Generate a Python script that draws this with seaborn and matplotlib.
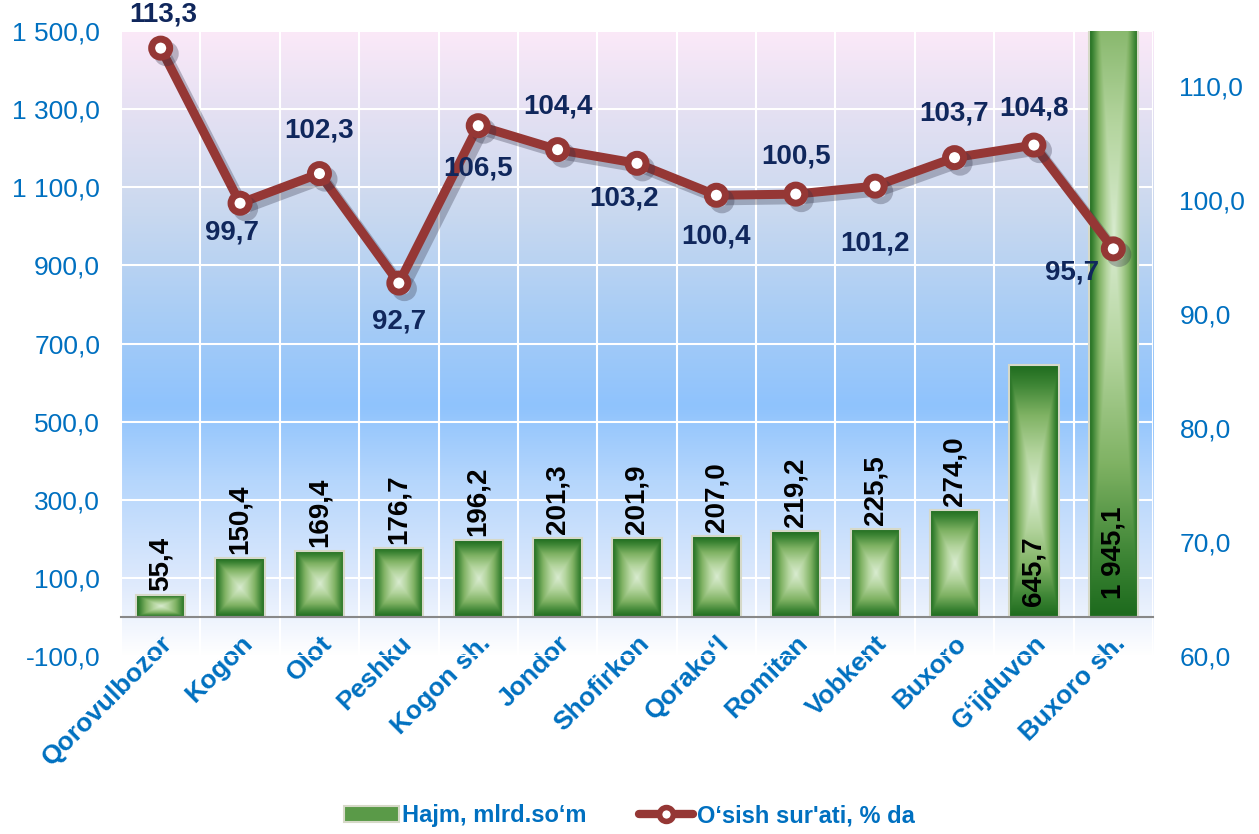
import numpy as np
import pandas as pd
import matplotlib
matplotlib.use('Agg')
import matplotlib.pyplot as plt
import matplotlib.patheffects as pe
from matplotlib.colors import LinearSegmentedColormap
from matplotlib.patches import Patch
from matplotlib.lines import Line2D
from matplotlib.ticker import FuncFormatter, FixedLocator
import seaborn as sns

# data
districts = ['Qorovulbozor', 'Kogon', 'Olot', 'Peshku', 'Kogon sh.', 'Jondor', 'Shofirkon',
             'Qorako\u2018l', 'Romitan', 'Vobkent', 'Buxoro', 'G\u2018ijduvon', 'Buxoro sh.']
volume = [55.4, 150.4, 169.4, 176.7, 196.2, 201.3, 201.9, 207.0, 219.2, 225.5, 274.0, 645.7, 1945.1]
growth = [113.3, 99.7, 102.3, 92.7, 106.5, 104.4, 103.2, 100.4, 100.5, 101.2, 103.7, 104.8, 95.7]
left_ticks = [-100, 100, 300, 500, 700, 900, 1100, 1300, 1500]
right_ticks = [60, 70, 80, 90, 100, 110]
bar_name = 'Hajm, mlrd.so\u2018m'
line_name = 'O\u2018sish sur\'ati, % da'

# label offsets for the growth line (points): dx, dy
growth_label_offsets = [(2, 24), (-6, -21), (0, 31), (0, -28), (0, -31), (0, 31), (-9, -25),
                        (0, -30), (0, 27), (0, -41), (0, 32), (0, 26), (-30, -17)]

blue = '#0070c0'
navy = '#10275c'
red = '#953735'

sns.set_style('white')
plt.rcParams['font.family'] = ['Liberation Sans', 'DejaVu Sans']


def fmt_num(v, pos=None):
    return f'{v:,.1f}'.replace(',', ' ').replace('.', ',')


df = pd.DataFrame({'district': districts, 'volume': volume, 'growth': growth})

fig = plt.figure(figsize=(12.59, 8.34), dpi=100)
ax = fig.add_axes([0.0961, 0.2134, 0.8197, 0.7494])

# background gradient pink -> blue -> white
bg = LinearSegmentedColormap.from_list('bg', [
    (0.0, '#ffffff'), (0.04, '#f3f7fe'), (0.12, '#dde9fc'), (0.28, '#b5d6fc'),
    (0.40, '#8fc3fd'), (0.55, '#a9cdf5'), (0.72, '#cbd9ef'), (0.88, '#e6e1f3'), (1.0, '#fbe9f8')])
grad = np.linspace(0, 1, 256).reshape(-1, 1)
ax.imshow(grad, cmap=bg, origin='lower', extent=[0, 1, 0, 1], transform=ax.transAxes,
          aspect='auto', zorder=0)

sns.barplot(data=df, x='district', y='volume', ax=ax, width=0.62, color='#4e8f3e',
            edgecolor='#d6d9c8', linewidth=1.5, zorder=2)

ax.set_xlim(-0.5, len(districts) - 0.5)
ax.set_ylim(-100, 1500)

# vertical white separators between categories (under the tick labels)
for b in np.arange(-0.5, len(districts), 1.0):
    ax.axvline(b, color='white', lw=1.5, zorder=0.3)

# green "rectangle from centre" fill for every bar
bar_cmap = LinearSegmentedColormap.from_list('bar', [
    (0.0, '#d8ebcf'), (0.3, '#b3d49d'), (0.6, '#7fb263'), (0.85, '#3c8434'), (1.0, '#1e6b1e')])
n = 120
u = np.abs(np.linspace(-1, 1, n))
box = np.maximum(u[None, :], u[:, None])
for p in ax.patches:
    x0, y0 = p.get_x(), p.get_y()
    w, h = p.get_width(), p.get_height()
    p.set_facecolor('none')
    im = ax.imshow(box, cmap=bar_cmap, extent=[x0, x0 + w, y0, y0 + h], aspect='auto',
                   origin='lower', zorder=2.5, interpolation='bilinear')
    im.set_clip_path(p)
    im.set_clip_box(ax.bbox)
    p.set_zorder(3)

# bar value labels
for i, v in enumerate(volume):
    if v > 600:
        ax.annotate(fmt_num(v), xy=(i, 0), xytext=(0, 8 if v < 1000 else 13),
                    textcoords='offset points', rotation=90, ha='center', va='bottom',
                    fontsize=20, fontweight='bold', color='black', zorder=5)
    else:
        ax.annotate(fmt_num(v), xy=(i, v), xytext=(0, 3), textcoords='offset points',
                    rotation=90, ha='center', va='bottom', fontsize=20, fontweight='bold',
                    color='black', zorder=5)

# axes cosmetics
ax.set_xlabel('')
ax.set_ylabel('')
ax.yaxis.set_major_locator(FixedLocator(left_ticks))
ax.yaxis.set_major_formatter(FuncFormatter(fmt_num))
ax.tick_params(axis='y', length=0, labelsize=19, labelcolor=blue, pad=15)
ax.grid(True, axis='y', which='major', color='white', lw=1.5)
ax.set_axisbelow(True)
for s in ['left', 'right', 'top']:
    ax.spines[s].set_visible(False)
ax.spines['bottom'].set_position(('data', 0))
ax.spines['bottom'].set_color('#888888')
ax.spines['bottom'].set_linewidth(1.5)
ax.spines['bottom'].set_zorder(4)

# growth line on the right axis
ax2 = ax.twinx()
ax2.set_zorder(ax.get_zorder() + 1)
ax2.patch.set_visible(False)
xs = np.arange(len(districts))
sns.lineplot(x=xs, y=growth, ax=ax2, color=red, lw=6.5, marker='o', markersize=13,
             markerfacecolor='white', markeredgecolor=red, markeredgewidth=5)
ax2.lines[0].set_path_effects([pe.SimpleLineShadow(offset=(4, -4), shadow_color='#303045', alpha=0.3),
                               pe.Normal()])
ax2.set_ylim(60, 114.8)
ax2.yaxis.set_major_locator(FixedLocator(right_ticks))
ax2.yaxis.set_major_formatter(FuncFormatter(fmt_num))
ax2.tick_params(axis='y', length=0, labelsize=19, labelcolor=blue, pad=19)
for s in ax2.spines.values():
    s.set_visible(False)

for i, g in enumerate(growth):
    dx, dy = growth_label_offsets[i]
    ax2.annotate(fmt_num(g), xy=(i, g), xytext=(dx, dy), textcoords='offset points',
                 ha='center', va='center', fontsize=20, fontweight='bold', color=navy, zorder=6)

# category axis (styled last, after twinx/lineplot touched the shared x axis)
ax.set_xlim(-0.5, len(districts) - 0.5)
ax.xaxis.set_major_locator(FixedLocator(range(len(districts))))
ax.set_xticklabels(districts)
ax.xaxis.set_minor_locator(FixedLocator(np.arange(-0.5, len(districts), 1.0)))
ax.tick_params(axis='x', which='major', length=0, pad=10, labelsize=19, labelcolor=blue,
               labelrotation=45)
ax.tick_params(axis='x', which='minor', length=7, width=1.5, color='#888888', direction='out')
ax.grid(False, axis='x', which='both')
for lab in ax.get_xticklabels():
    lab.set_ha('right')
    lab.set_rotation_mode('anchor')
    lab.set_fontweight('bold')

handles = [Patch(facecolor='#5a9a48', edgecolor='#d6d9c8', linewidth=1.5),
           Line2D([0], [0], color=red, lw=6, marker='o', markersize=10,
                  markerfacecolor='white', markeredgecolor=red, markeredgewidth=4)]
leg = fig.legend(handles, [bar_name, line_name], loc='center', bbox_to_anchor=(0.5, 0.022),
                 ncol=2, frameon=False, fontsize=17, handlelength=2.3, columnspacing=2.2,
                 handletextpad=0.15)
for t in leg.get_texts():
    t.set_color(blue)
    t.set_fontweight('bold')

fig.savefig('out.png', dpi=100)
